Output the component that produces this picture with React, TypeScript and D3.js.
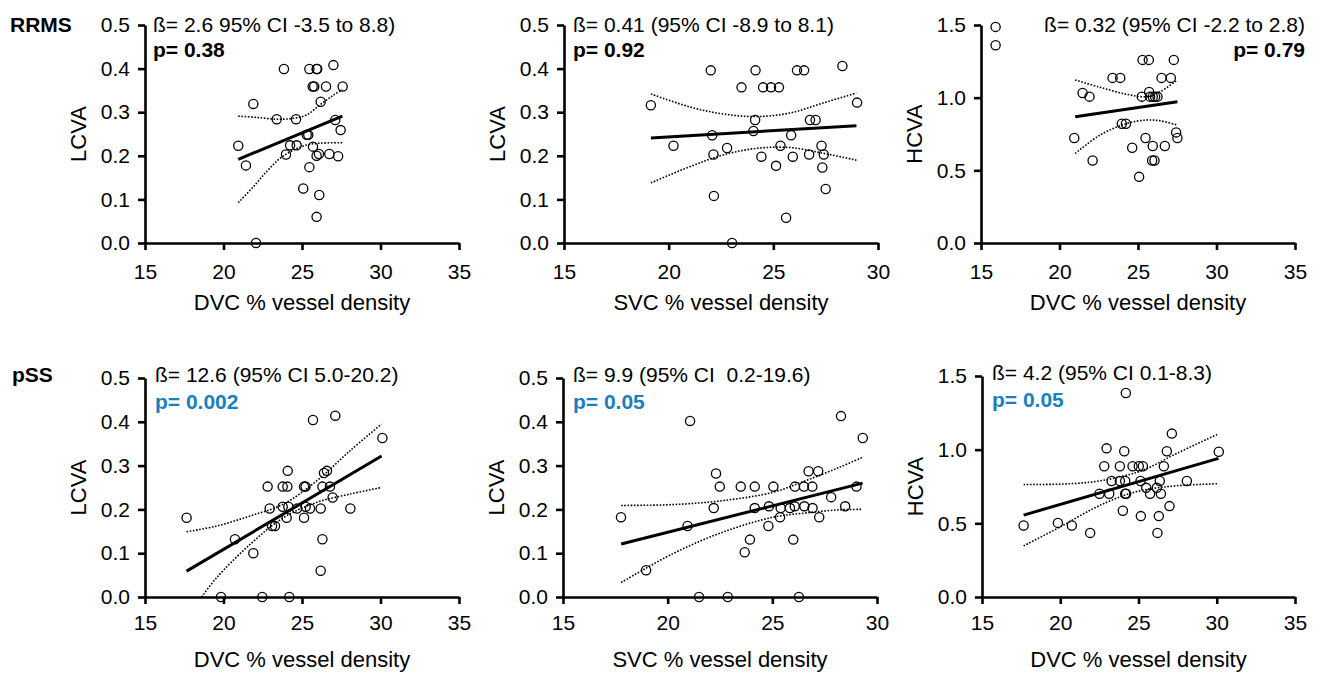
import React, { useEffect, useRef } from "react";
import * as d3 from "d3";

// RRMS row
const rrmsDvcLcva: [number, number][] = [
  [20.94, 0.223], [21.43, 0.178], [21.9, 0.319], [22.07, 0.0], [23.39, 0.284],
  [23.85, 0.399], [23.98, 0.203], [24.24, 0.224], [24.62, 0.284], [24.66, 0.224],
  [25.08, 0.125], [25.3, 0.248], [25.4, 0.248], [25.47, 0.174], [25.47, 0.399],
  [25.93, 0.399], [25.97, 0.399], [25.7, 0.221], [25.68, 0.359], [25.78, 0.359],
  [25.93, 0.06], [25.93, 0.2], [26.08, 0.204], [26.1, 0.11], [26.19, 0.324],
  [26.53, 0.359], [26.74, 0.204], [27.0, 0.408], [27.12, 0.282], [27.3, 0.199],
  [27.46, 0.259], [27.59, 0.359],
];
const rrmsDvcLcvaFit: [number, number][] = [[20.94, 0.192], [27.57, 0.291]];
const rrmsDvcLcvaUpper: [number, number][] = [
  [20.94, 0.291], [22.11, 0.288], [23.39, 0.284], [24.45, 0.286], [25.3, 0.294],
  [26.15, 0.317], [27.0, 0.339], [27.57, 0.352],
];
const rrmsDvcLcvaLower: [number, number][] = [
  [20.94, 0.0925], [21.9, 0.129], [22.75, 0.164], [23.6, 0.194], [24.45, 0.213],
  [25.3, 0.225], [26.15, 0.229], [27.57, 0.23],
];

const rrmsSvcLcva: [number, number][] = [
  [19.15, 0.316], [20.23, 0.223], [22.01, 0.396], [22.08, 0.247], [22.14, 0.203],
  [22.16, 0.108], [22.79, 0.218], [23.03, 0.0], [23.48, 0.357], [24.05, 0.257],
  [24.13, 0.282], [24.15, 0.396], [24.43, 0.198], [24.51, 0.357], [24.89, 0.357],
  [25.27, 0.357], [25.13, 0.177], [25.34, 0.223], [25.61, 0.058], [25.85, 0.247],
  [25.93, 0.198], [26.13, 0.396], [26.47, 0.396], [26.71, 0.203], [26.75, 0.282],
  [27.02, 0.282], [27.3, 0.223], [27.34, 0.173], [27.41, 0.203], [27.5, 0.124],
  [28.3, 0.406], [29.0, 0.322],
];
const rrmsSvcLcvaFit: [number, number][] = [[19.15, 0.241], [28.97, 0.269]];
const rrmsSvcLcvaUpper: [number, number][] = [
  [19.15, 0.342], [21.01, 0.312], [22.6, 0.296], [24.19, 0.29], [25.78, 0.298],
  [27.37, 0.321], [28.97, 0.344],
];
const rrmsSvcLcvaLower: [number, number][] = [
  [19.15, 0.138], [21.01, 0.175], [22.6, 0.202], [24.19, 0.217], [25.78, 0.219],
  [27.37, 0.206], [28.97, 0.19],
];

const rrmsDvcHcva: [number, number][] = [
  [15.93, 1.487], [15.93, 1.361], [20.94, 0.722], [21.47, 1.032], [21.91, 1.007],
  [22.11, 0.568], [23.38, 1.136], [23.87, 1.136], [23.97, 0.821], [24.23, 0.821],
  [24.63, 0.655], [25.07, 0.455], [25.29, 1.26], [25.24, 1.007], [25.48, 0.722],
  [25.69, 1.26], [25.71, 1.039], [25.77, 1.007], [25.94, 1.007], [26.09, 1.007],
  [26.24, 1.007], [25.94, 0.667], [25.9, 0.568], [26.05, 0.568], [26.5, 1.136],
  [26.71, 0.667], [27.09, 1.136], [27.28, 1.26], [27.43, 0.761], [27.51, 0.722],
];
const rrmsDvcHcvaFit: [number, number][] = [[21.0, 0.869], [27.51, 0.972]];
const rrmsDvcHcvaUpper: [number, number][] = [
  [21.0, 1.122], [22.59, 1.071], [24.29, 1.023], [25.56, 1.007], [26.41, 1.041], [27.51, 1.122],
];
const rrmsDvcHcvaLower: [number, number][] = [
  [21.0, 0.616], [22.59, 0.743], [24.29, 0.823], [25.56, 0.846], [26.41, 0.841], [27.51, 0.811],
];

// pSS row
const pssDvcLcva: [number, number][] = [
  [17.65, 0.181], [19.84, 0.0], [20.73, 0.132], [21.9, 0.1], [22.47, 0.0],
  [22.81, 0.252], [22.94, 0.202], [23.09, 0.162], [23.28, 0.162], [23.77, 0.252],
  [23.77, 0.206], [24.02, 0.181], [24.09, 0.288], [24.07, 0.252], [24.13, 0.206],
  [24.19, 0.0], [24.68, 0.202], [25.13, 0.252], [25.23, 0.252], [25.13, 0.181],
  [25.23, 0.206], [25.51, 0.202], [25.7, 0.404], [26.19, 0.202], [26.19, 0.06],
  [26.3, 0.132], [26.3, 0.252], [26.4, 0.283], [26.59, 0.288], [26.78, 0.252],
  [26.95, 0.227], [27.12, 0.414], [28.08, 0.202], [30.12, 0.363],
];
const pssDvcLcvaFit: [number, number][] = [[17.65, 0.059], [30.07, 0.322]];
const pssDvcLcvaUpper: [number, number][] = [
  [17.65, 0.149], [19.56, 0.162], [21.69, 0.185], [23.81, 0.212], [25.93, 0.265],
  [28.06, 0.334], [30.07, 0.395],
];
const pssDvcLcvaLower: [number, number][] = [
  [18.61, 0.0], [19.56, 0.044], [21.69, 0.12], [23.81, 0.181], [25.93, 0.216],
  [28.06, 0.235], [30.07, 0.25],
];

const pssSvcLcva: [number, number][] = [
  [17.77, 0.182], [18.97, 0.061], [20.95, 0.162], [21.07, 0.402], [21.5, 0.0],
  [22.2, 0.203], [22.31, 0.282], [22.49, 0.252], [22.87, 0.0], [23.49, 0.252],
  [23.68, 0.102], [23.93, 0.131], [24.16, 0.252], [24.16, 0.203], [24.81, 0.162],
  [24.84, 0.207], [25.05, 0.252], [25.37, 0.182], [25.4, 0.203], [25.84, 0.203],
  [26.0, 0.131], [26.07, 0.207], [26.08, 0.252], [26.27, 0.0], [26.51, 0.252],
  [26.53, 0.207], [26.73, 0.287], [26.91, 0.252], [26.92, 0.203], [27.19, 0.287],
  [27.24, 0.182], [27.81, 0.228], [28.28, 0.413], [28.48, 0.207], [29.02, 0.252],
  [29.32, 0.363],
];
const pssSvcLcvaFit: [number, number][] = [[17.78, 0.121], [29.31, 0.26]];
const pssSvcLcvaUpper: [number, number][] = [
  [17.78, 0.209], [20.25, 0.211], [22.63, 0.22], [25.02, 0.239], [26.61, 0.266],
  [28.2, 0.296], [29.31, 0.319],
];
const pssSvcLcvaLower: [number, number][] = [
  [17.78, 0.033], [20.25, 0.099], [22.63, 0.148], [25.02, 0.182], [26.61, 0.192],
  [28.2, 0.199], [29.31, 0.2],
];

const pssDvcHcva: [number, number][] = [
  [17.66, 0.485], [19.85, 0.503], [20.74, 0.485], [21.91, 0.435], [22.51, 0.701],
  [22.81, 0.887], [22.96, 1.009], [23.13, 0.701], [23.28, 0.787], [23.81, 0.887],
  [23.81, 0.787], [24.0, 0.585], [24.09, 0.989], [24.15, 0.787], [24.15, 0.701],
  [24.21, 0.701], [24.19, 1.385], [24.62, 0.887], [25.02, 0.887], [25.28, 0.887],
  [25.13, 0.787], [25.15, 0.549], [25.49, 0.741], [25.74, 0.701], [26.17, 0.741],
  [26.21, 0.435], [26.3, 0.549], [26.36, 0.787], [26.43, 0.701], [26.62, 0.887],
  [26.81, 0.989], [26.98, 0.617], [27.13, 1.109], [28.09, 0.787], [30.13, 0.986],
];
const pssDvcHcvaFit: [number, number][] = [[17.66, 0.556], [30.11, 0.941]];
const pssDvcHcvaUpper: [number, number][] = [
  [17.66, 0.764], [20.0, 0.766], [22.13, 0.782], [23.83, 0.816], [25.32, 0.862],
  [27.45, 0.975], [30.11, 1.107],
];
const pssDvcHcvaLower: [number, number][] = [
  [17.66, 0.347], [20.0, 0.476], [22.13, 0.601], [23.83, 0.68], [25.32, 0.726],
  [27.45, 0.755], [30.11, 0.769],
];

const lcvaTicks = [0, 0.1, 0.2, 0.3, 0.4, 0.5];
const hcvaTicks = [0, 0.5, 1.0, 1.5];
const xTicksWide = [15, 20, 25, 30, 35];
const xTicksNarrow = [15, 20, 25, 30];

const FONT = "'Liberation Sans', Arial, Helvetica, sans-serif";
const BLUE = "#1a7fbd";

// row-level text offsets (top row / bottom row differ slightly in the source)
const topRow = { top: 25, bottom: 243, betaDy: 7, pDy: 32, tickPad: 14, titleDy: 67 };
const botRow = { top: 378, bottom: 597, betaDy: 4, pDy: 31, tickPad: 11, titleDy: 70 };

const panels = [
  {
    points: rrmsDvcLcva, fit: rrmsDvcLcvaFit, upper: rrmsDvcLcvaUpper, lower: rrmsDvcLcvaLower,
    xDomain: [15, 35], yDomain: [0, 0.5], xTicks: xTicksWide, yTicks: lcvaTicks,
    left: 145, right: 459, row: topRow,
    xTitle: "DVC % vessel density", yTitle: "LCVA",
    beta: "ß= 2.6 95% CI -3.5 to 8.8)", p: "p= 0.38", pColor: "#000", align: "start", tx: 153,
  },
  {
    points: rrmsSvcLcva, fit: rrmsSvcLcvaFit, upper: rrmsSvcLcvaUpper, lower: rrmsSvcLcvaLower,
    xDomain: [15, 30], yDomain: [0, 0.5], xTicks: xTicksNarrow, yTicks: lcvaTicks,
    left: 564, right: 878, row: topRow,
    xTitle: "SVC % vessel density", yTitle: "LCVA",
    beta: "ß= 0.41 (95% CI -8.9 to 8.1)", p: "p= 0.92", pColor: "#000", align: "start", tx: 573,
  },
  {
    points: rrmsDvcHcva, fit: rrmsDvcHcvaFit, upper: rrmsDvcHcvaUpper, lower: rrmsDvcHcvaLower,
    xDomain: [15, 35], yDomain: [0, 1.5], xTicks: xTicksWide, yTicks: hcvaTicks,
    left: 981, right: 1295, row: topRow,
    xTitle: "DVC % vessel density", yTitle: "HCVA",
    beta: "ß= 0.32 (95% CI -2.2 to 2.8)", p: "p= 0.79", pColor: "#000", align: "end", tx: 1305,
  },
  {
    points: pssDvcLcva, fit: pssDvcLcvaFit, upper: pssDvcLcvaUpper, lower: pssDvcLcvaLower,
    xDomain: [15, 35], yDomain: [0, 0.5], xTicks: xTicksWide, yTicks: lcvaTicks,
    left: 145, right: 459, row: botRow,
    xTitle: "DVC % vessel density", yTitle: "LCVA",
    beta: "ß= 12.6 (95% CI 5.0-20.2)", p: "p= 0.002", pColor: BLUE, align: "start", tx: 155,
  },
  {
    points: pssSvcLcva, fit: pssSvcLcvaFit, upper: pssSvcLcvaUpper, lower: pssSvcLcvaLower,
    xDomain: [15, 30], yDomain: [0, 0.5], xTicks: xTicksNarrow, yTicks: lcvaTicks,
    left: 563, right: 877, row: botRow,
    xTitle: "SVC % vessel density", yTitle: "LCVA",
    beta: "ß= 9.9 (95% CI  0.2-19.6)", p: "p= 0.05", pColor: BLUE, align: "start", tx: 573,
  },
  {
    points: pssDvcHcva, fit: pssDvcHcvaFit, upper: pssDvcHcvaUpper, lower: pssDvcHcvaLower,
    xDomain: [15, 35], yDomain: [0, 1.5], xTicks: xTicksWide, yTicks: hcvaTicks,
    left: 982, right: 1295, row: { ...botRow, top: 376 },
    xTitle: "DVC % vessel density", yTitle: "HCVA",
    beta: "ß= 4.2 (95% CI 0.1-8.3)", p: "p= 0.05", pColor: BLUE, align: "start", tx: 992,
  },
];

const App = () => {
  const ref = useRef<SVGSVGElement>(null);

  useEffect(() => {
    const svg = d3.select(ref.current);
    svg.selectAll("*").remove();

    svg.append("rect").attr("width", 1320).attr("height", 674).attr("fill", "#fff");

    panels.forEach((cfg) => {
      const row = cfg.row;
      const g = svg.append("g");
      const x = d3.scaleLinear().domain(cfg.xDomain).range([cfg.left, cfg.right]);
      const y = d3.scaleLinear().domain(cfg.yDomain).range([row.bottom, row.top]);

      const xAxis = g
        .append("g")
        .attr("transform", `translate(0,${row.bottom})`)
        .call(d3.axisBottom(x).tickValues(cfg.xTicks).tickSize(7).tickSizeOuter(0).tickPadding(row.tickPad).tickFormat(d3.format("d")));

      const yAxis = g
        .append("g")
        .attr("transform", `translate(${cfg.left},0)`)
        .call(d3.axisLeft(y).tickValues(cfg.yTicks).tickSize(7).tickSizeOuter(0).tickPadding(8).tickFormat(d3.format(".1f")));

      [xAxis, yAxis].forEach((a) => {
        a.select(".domain").attr("stroke", "#000").attr("stroke-width", 2.6);
        a.selectAll(".tick line").attr("stroke", "#000").attr("stroke-width", 2.6);
        a.selectAll(".tick text").attr("fill", "#000").style("font-family", FONT).style("font-size", "21px");
      });

      const band = d3
        .line<[number, number]>()
        .x((d) => x(d[0]))
        .y((d) => y(d[1]))
        .curve(d3.curveCatmullRom);

      [cfg.upper, cfg.lower].forEach((b) => {
        g.append("path")
          .attr("d", band(b))
          .attr("fill", "none")
          .attr("stroke", "#000")
          .attr("stroke-width", 1.6)
          .attr("stroke-dasharray", "1.6,1.6");
      });

      g.append("path")
        .attr("d", d3.line<[number, number]>().x((d) => x(d[0])).y((d) => y(d[1]))(cfg.fit))
        .attr("stroke", "#000")
        .attr("stroke-width", 3);

      g.selectAll(".pt")
        .data(cfg.points)
        .enter()
        .append("circle")
        .attr("cx", (d) => x(d[0]))
        .attr("cy", (d) => y(d[1]))
        .attr("r", 4.6)
        .attr("fill", "none")
        .attr("stroke", "#000")
        .attr("stroke-width", 1.3);

      g.append("text")
        .attr("x", (cfg.left + cfg.right) / 2)
        .attr("y", row.bottom + row.titleDy)
        .attr("text-anchor", "middle")
        .style("font-family", FONT)
        .style("font-size", "22px")
        .text(cfg.xTitle);

      g.append("text")
        .attr("transform", `translate(${cfg.left - 59},${(row.top + row.bottom) / 2}) rotate(-90)`)
        .attr("text-anchor", "middle")
        .style("font-family", FONT)
        .style("font-size", "22px")
        .text(cfg.yTitle);

      g.append("text")
        .attr("x", cfg.tx)
        .attr("y", row.top + row.betaDy)
        .attr("text-anchor", cfg.align)
        .style("font-family", FONT)
        .style("font-size", "21px")
        .style("white-space", "pre")
        .text(cfg.beta);

      g.append("text")
        .attr("x", cfg.tx)
        .attr("y", row.top + row.pDy)
        .attr("text-anchor", cfg.align)
        .attr("fill", cfg.pColor)
        .style("font-family", FONT)
        .style("font-size", "21px")
        .style("font-weight", "bold")
        .text(cfg.p);
    });

    svg.append("text").attr("x", 10).attr("y", 32)
      .style("font-family", FONT).style("font-size", "21px").style("font-weight", "bold")
      .text("RRMS");
    svg.append("text").attr("x", 12).attr("y", 382)
      .style("font-family", FONT).style("font-size", "21px").style("font-weight", "bold")
      .text("pSS");
  }, []);

  return (
    <svg
      ref={ref}
      width={1320}
      height={674}
      style={{ position: "absolute", left: 0, top: 0 }}
    ></svg>
  );
};

export default App;
